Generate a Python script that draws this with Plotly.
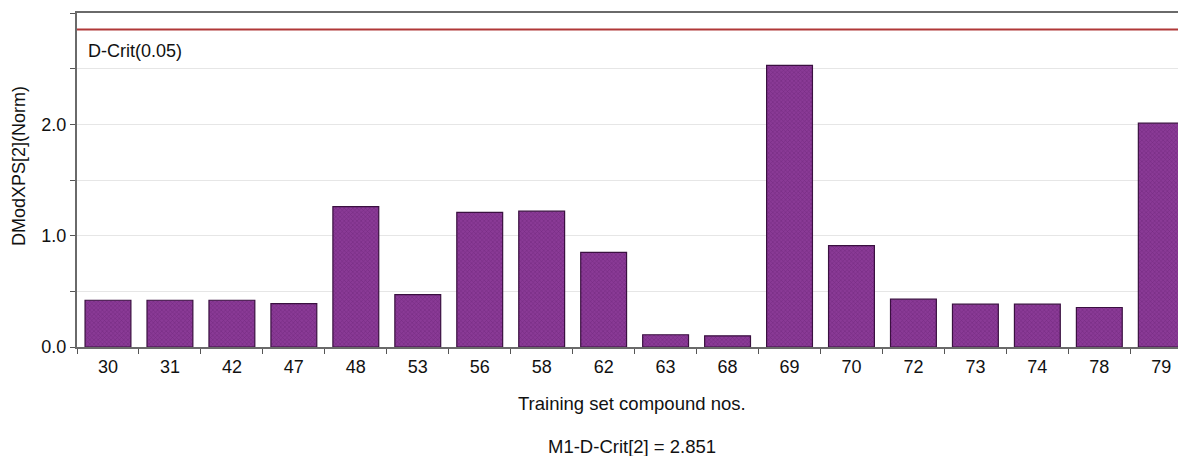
import plotly.graph_objects as go

categories = ["30", "31", "42", "47", "48", "53", "56", "58", "62", "63",
              "68", "69", "70", "72", "73", "74", "78", "79"]
values = [0.42, 0.42, 0.42, 0.39, 1.26, 0.47, 1.21, 1.22, 0.85, 0.11,
          0.10, 2.53, 0.91, 0.43, 0.385, 0.385, 0.355, 2.01]
d_crit = 2.851
y_ticks = [0.0, 1.0, 2.0]
y_tick_labels = ["0.0", "1.0", "2.0"]

FONT = "Liberation Sans, Arial, sans-serif"
FS = 18

fig = go.Figure()
fig.add_trace(go.Bar(
    x=categories, y=values,
    marker=dict(
        color="#7d3189",
        line=dict(color="#3a1040", width=1.2),
        pattern=dict(shape="x", size=3, solidity=0.3, fgcolor="#5a1866", bgcolor="#8a3a96"),
    ),
    width=0.74,
))

fig.add_shape(type="line", xref="paper", yref="y", x0=0, x1=1, y0=d_crit, y1=d_crit,
              line=dict(color="#b03838", width=2))

fig.add_annotation(text="D-Crit(0.05)", xref="paper", yref="y", x=0, y=d_crit,
                   xanchor="left", yanchor="top", xshift=9, yshift=-9,
                   showarrow=False, font=dict(size=FS, color="#111"))
fig.add_annotation(text="DModXPS[2](Norm)", xref="paper", yref="paper",
                   x=0, y=(347 - 166) / 334, xanchor="center", yanchor="middle",
                   xshift=-58, textangle=-90, showarrow=False,
                   font=dict(size=FS, color="#111"))
fig.add_annotation(text="Training set compound nos.", xref="paper", yref="paper",
                   x=(632 - 77) / 1101, y=0, yshift=-56, xanchor="center", yanchor="middle",
                   showarrow=False, font=dict(size=FS + 0.5, color="#111"))
fig.add_annotation(text="M1-D-Crit[2] = 2.851", xref="paper", yref="paper",
                   x=(632 - 77) / 1101, y=0, yshift=-99, xanchor="center", yanchor="middle",
                   showarrow=False, font=dict(size=FS + 0.5, color="#111"))

fig.update_layout(
    width=1178, height=456,
    margin=dict(l=77, r=0, t=13, b=109),
    paper_bgcolor="white", plot_bgcolor="white",
    showlegend=False,
    font=dict(family=FONT, size=FS, color="#111"),
    xaxis=dict(
        type="category", range=[-0.5, 17.27],
        showline=True, linecolor="#6a6a6a", linewidth=2, mirror=True,
        ticks="outside", tickson="boundaries", ticklen=5, tickcolor="#555",
        showgrid=False, tickfont=dict(size=FS), ticklabelstandoff=2,
    ),
    yaxis=dict(
        range=[0, 3.0],
        tickvals=y_ticks, ticktext=y_tick_labels,
        showline=True, linecolor="#6a6a6a", linewidth=2,
        ticks="outside", ticklen=5, tickcolor="#555",
        showgrid=True, gridcolor="#e6e6e6", gridwidth=1,
        minor=dict(dtick=0.5, ticks="outside", ticklen=5, tickcolor="#555",
                   showgrid=True, gridcolor="#e6e6e6"),
        zeroline=False, tickfont=dict(size=FS),
    ),
)

fig.write_html("out.html")
